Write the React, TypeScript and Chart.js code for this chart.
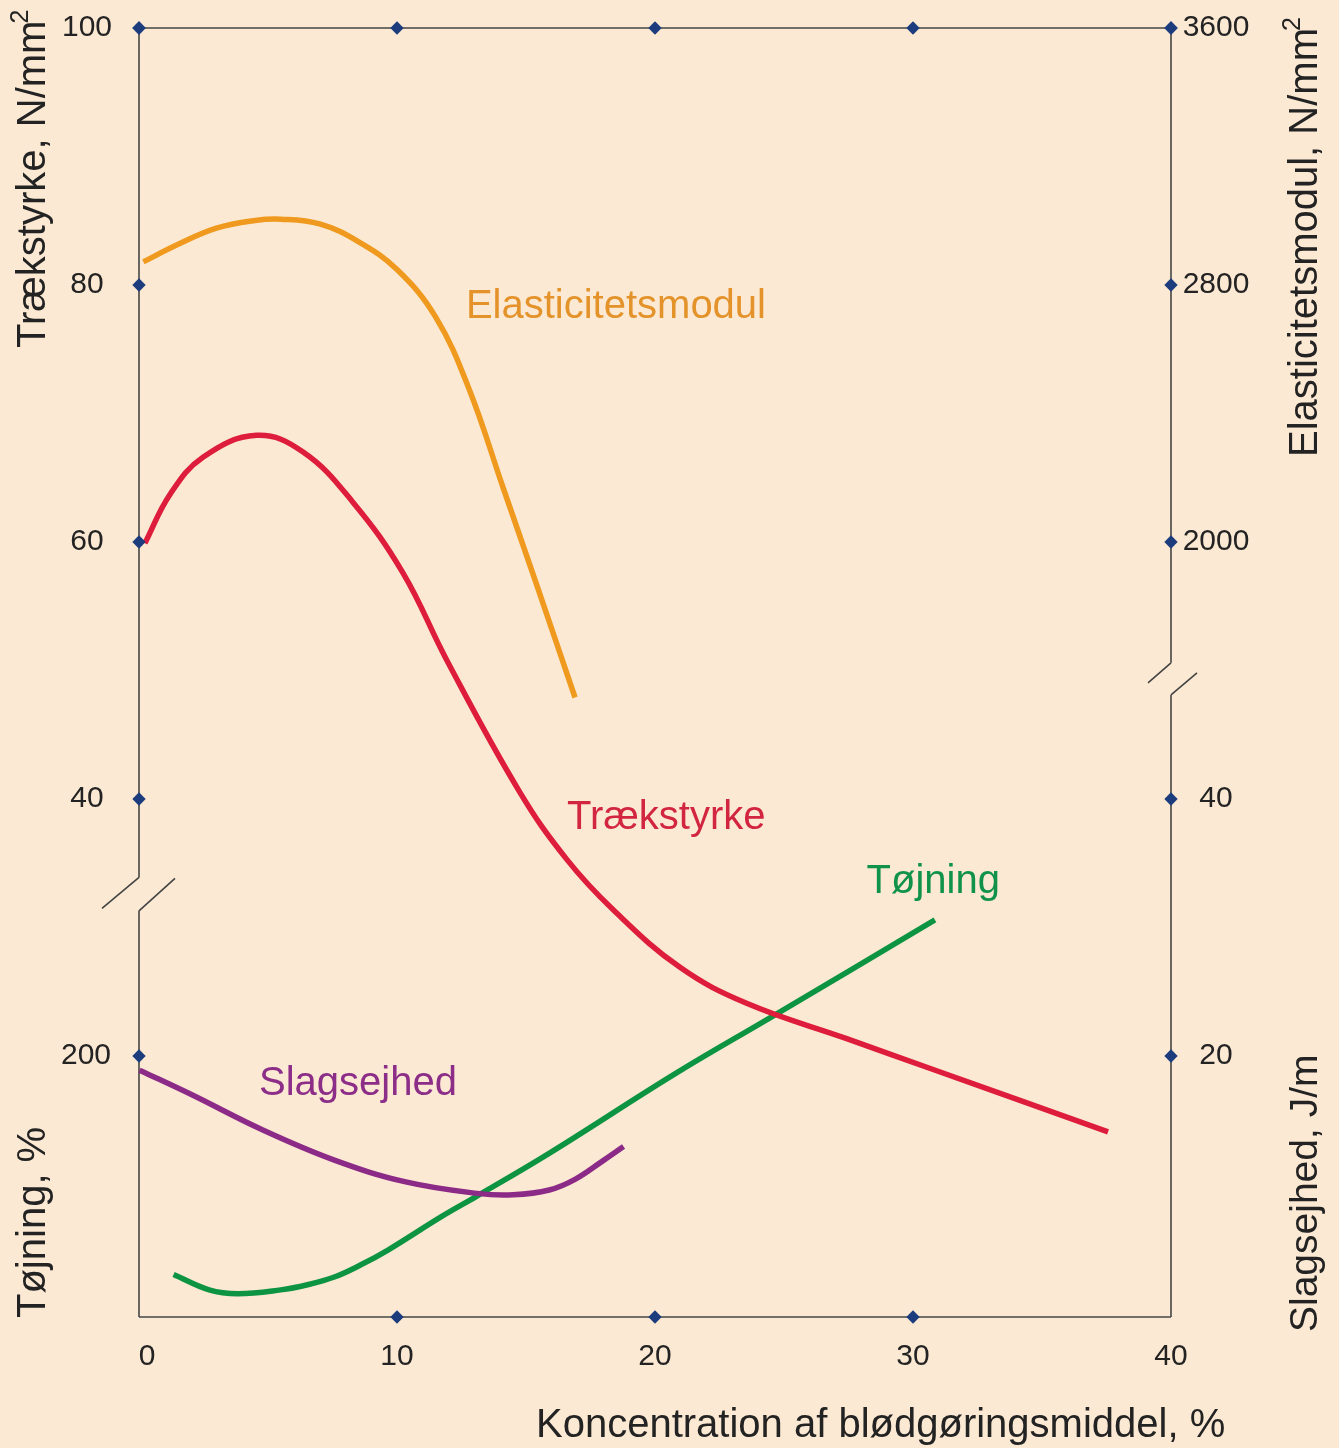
import React, { useEffect, useRef } from "react";
import { Chart, registerables } from "chart.js";

Chart.register(...registerables);

// ---------- DATA ----------
// x: Koncentration af blødgøringsmiddel, %
const xTickValues = [0, 10, 20, 30, 40];
const topDiamondX = [0, 10, 20, 30, 40];
const bottomDiamondX = [10, 20, 30];

// Trækstyrke, N/mm² (left, upper part)
const traekX = [0.23, 1.2, 2.48, 4.56, 6.36, 8.29, 10.23, 11.93, 14.77, 16.58, 18.37, 20.97, 23.55, 27.43, 30.78, 37.56];
const traekY = [59.9, 63.7, 66.6, 68.3, 67.0, 63.1, 57.6, 50.8, 40.5, 35.3, 31.4, 26.9, 24.1, 21.35, 18.95, 14.1];

// Elasticitetsmodul, N/mm² (right, upper part)
const elastX = [0.17, 1.5, 3.0, 4.5, 5.5, 7.0, 8.5, 10.0, 11.5, 12.8, 14.1, 15.4, 16.9];
const elastY = [2872, 2926, 2977, 3001, 3005, 2990, 2935, 2848, 2700, 2475, 2172, 1870, 1516];

// Tøjning, % (left, lower part)
const tojX = [1.34, 2.72, 3.83, 5.49, 6.53, 7.57, 8.6, 9.65, 11.72, 13.1, 15.88, 20.85, 24.57, 30.85];
const tojY = [30, 18, 15, 18, 22, 28, 37.5, 49, 75, 91, 124, 187, 231, 306];

// Slagsejhed, J/m (right, lower part)
const slagX = [0.02, 2.03, 4.8, 7.57, 10.34, 13.1, 14.5, 15.9, 16.9, 17.95, 18.78];
const slagY = [18.9, 17.0, 14.24, 11.9, 10.2, 9.31, 9.2, 9.57, 10.4, 11.8, 12.95];

// Tick labels
const leftTraekTicks = [100, 80, 60, 40];
const leftTojTicks = [200];
const rightElastTicks = [3600, 2800, 2000];
const rightSlagTicks = [40, 20];

// Series labels
const seriesNames = ["Elasticitetsmodul", "Trækstyrke", "Tøjning", "Slagsejhed"];

// ---------- conversions to the shared drawing scale ----------
const traekToAxis = (v: number) => v;
const elastToAxis = (e: number) => (e + 400) / 40;
const tojToAxis = (t: number) => t / 10;
const slagToAxis = (s: number) => s;

// ---------- style / layout ----------
const FONT = '"Liberation Sans", Arial, Helvetica, sans-serif';
const BG = "#FCE9D3";
const AXIS = "#444444";
const TEXT = "#232323";
const DIAMOND = "#1C3C7E";
const ORANGE = "#EF9A1E";
const RED = "#DD1D3B";
const GREEN = "#0C9442";
const PURPLE = "#8C2A87";
const labelColors = ["#E4922A", "#D2253F", "#11924A", "#8C2D88"];
// label anchors in data units (x, shared-axis value of baseline)
const labelAnchorX = [12.67, 16.59, 28.2, 4.65];
const labelAnchorY = [77.4, 37.7, 32.7, 17.0];
const leftBreak = [31.3, 33.9];
const rightBreak = [48.1, 50.6];

function pts(xs: number[], ys: number[], f: (v: number) => number) {
  return xs.map((x, i) => ({ x, y: f(ys[i]) }));
}

const decorPlugin = {
  id: "decor",
  beforeDraw(chart: any) {
    const { ctx, width, height } = chart;
    ctx.save();
    ctx.fillStyle = BG;
    ctx.fillRect(0, 0, width, height);
    ctx.restore();
  },
  beforeDatasetsDraw(chart: any) {
    const { ctx, chartArea: a, scales } = chart;
    const ys = scales.y;
    const seg = (x1: number, y1: number, x2: number, y2: number) => {
      ctx.beginPath();
      ctx.moveTo(x1, y1);
      ctx.lineTo(x2, y2);
      ctx.stroke();
    };
    ctx.save();
    ctx.strokeStyle = AXIS;
    ctx.lineWidth = 1.6;
    seg(a.left, a.top, a.right, a.top);
    seg(a.left, a.bottom, a.right, a.bottom);
    // left axis with break
    const lUp = ys.getPixelForValue(leftBreak[1]);
    const lLo = ys.getPixelForValue(leftBreak[0]);
    seg(a.left, a.top, a.left, lUp);
    seg(a.left, lUp, a.left - 37, lUp + 31);
    seg(a.left + 36, lUp + 1, a.left, lLo);
    seg(a.left, lLo, a.left, a.bottom);
    // right axis with break
    const rUp = ys.getPixelForValue(rightBreak[1]);
    const rLo = ys.getPixelForValue(rightBreak[0]);
    seg(a.right, a.top, a.right, rUp);
    seg(a.right, rUp, a.right - 23, rUp + 20);
    seg(a.right + 26, rUp + 10, a.right, rLo);
    seg(a.right, rLo, a.right, a.bottom);
    ctx.restore();
  },
  afterDatasetsDraw(chart: any) {
    const { ctx, chartArea: a, scales } = chart;
    const xs = scales.x;
    const ys = scales.y;
    const diamond = (cx: number, cy: number) => {
      const r = 6.7;
      ctx.beginPath();
      ctx.moveTo(cx, cy - r);
      ctx.lineTo(cx + r, cy);
      ctx.lineTo(cx, cy + r);
      ctx.lineTo(cx - r, cy);
      ctx.closePath();
      ctx.fill();
    };
    ctx.save();
    ctx.fillStyle = DIAMOND;
    topDiamondX.forEach((v) => diamond(xs.getPixelForValue(v), a.top));
    bottomDiamondX.forEach((v) => diamond(xs.getPixelForValue(v), a.bottom));
    leftTraekTicks.forEach((v) => diamond(a.left, ys.getPixelForValue(traekToAxis(v))));
    leftTojTicks.forEach((v) => diamond(a.left, ys.getPixelForValue(tojToAxis(v))));
    rightElastTicks.forEach((v) => diamond(a.right, ys.getPixelForValue(elastToAxis(v))));
    rightSlagTicks.forEach((v) => diamond(a.right, ys.getPixelForValue(slagToAxis(v))));

    // tick labels
    ctx.fillStyle = TEXT;
    ctx.font = `30px ${FONT}`;
    ctx.textAlign = "center";
    ctx.textBaseline = "middle";
    leftTraekTicks.forEach((v) => ctx.fillText(String(v), a.left - 52, ys.getPixelForValue(traekToAxis(v))));
    leftTojTicks.forEach((v) => ctx.fillText(String(v), a.left - 53, ys.getPixelForValue(tojToAxis(v))));
    rightElastTicks.forEach((v) => ctx.fillText(String(v), a.right + 45, ys.getPixelForValue(elastToAxis(v))));
    rightSlagTicks.forEach((v) => ctx.fillText(String(v), a.right + 45, ys.getPixelForValue(slagToAxis(v))));
    xTickValues.forEach((v, i) =>
      ctx.fillText(String(v), xs.getPixelForValue(v) + (i === 0 ? 8 : 0), a.bottom + 40)
    );

    // axis titles
    ctx.textAlign = "left";
    ctx.textBaseline = "alphabetic";
    const rotTitle = (tx: number, ty: number, main: string, sup: string | null, size: number) => {
      ctx.save();
      ctx.translate(tx, ty);
      ctx.rotate(-Math.PI / 2);
      ctx.font = `${size}px ${FONT}`;
      ctx.fillText(main, 0, 0);
      if (sup) {
        const w = ctx.measureText(main).width;
        ctx.font = `${Math.round(size * 0.62)}px ${FONT}`;
        ctx.fillText(sup, w - 3, -17);
      }
      ctx.restore();
    };
    rotTitle(45, 348, "Trækstyrke, N/mm", "2", 40);
    rotTitle(45, 1318, "Tøjning, %", null, 40);
    rotTitle(1317, 457, "Elasticitetsmodul, N/mm", "2", 40);
    rotTitle(1317, 1332, "Slagsejhed, J/m", null, 39);

    ctx.font = `40px ${FONT}`;
    ctx.fillText("Koncentration af blødgøringsmiddel, %", 536, 1437);

    // series labels
    seriesNames.forEach((name, i) => {
      ctx.fillStyle = labelColors[i];
      ctx.fillText(name, xs.getPixelForValue(labelAnchorX[i]), ys.getPixelForValue(labelAnchorY[i]));
    });
    ctx.restore();
  },
};

export default function App() {
  const ref = useRef<HTMLCanvasElement | null>(null);
  useEffect(() => {
    if (!ref.current) return;
    const common = {
      borderWidth: 5.5,
      pointRadius: 0,
      fill: false,
      tension: 0.4,
      borderCapStyle: "butt" as const,
      clip: false as any,
    };
    const chart = new Chart(ref.current, {
      type: "line",
      data: {
        datasets: [
          { ...common, label: "Elasticitetsmodul", data: pts(elastX, elastY, elastToAxis), borderColor: ORANGE },
          { ...common, label: "Trækstyrke", data: pts(traekX, traekY, traekToAxis), borderColor: RED },
          { ...common, label: "Slagsejhed", data: pts(slagX, slagY, slagToAxis), borderColor: PURPLE },
          { ...common, label: "Tøjning", data: pts(tojX, tojY, tojToAxis), borderColor: GREEN },
        ],
      },
      options: {
        animation: false,
        responsive: false,
        maintainAspectRatio: false,
        layout: { padding: { left: 139, right: 168, top: 28, bottom: 131 } },
        plugins: { legend: { display: false }, tooltip: { enabled: false } },
        events: [],
        scales: {
          x: { type: "linear", min: 0, max: 40, display: false },
          y: { type: "linear", min: -0.31, max: 100, display: false },
        },
      },
      plugins: [decorPlugin],
    });
    return () => chart.destroy();
  }, []);
  return (
    <div style={{ position: "fixed", left: 0, top: 0, width: 1339, height: 1448, background: BG }}>
      <canvas ref={ref} width={1339} height={1448} style={{ width: 1339, height: 1448, display: "block" }} />
    </div>
  );
}
